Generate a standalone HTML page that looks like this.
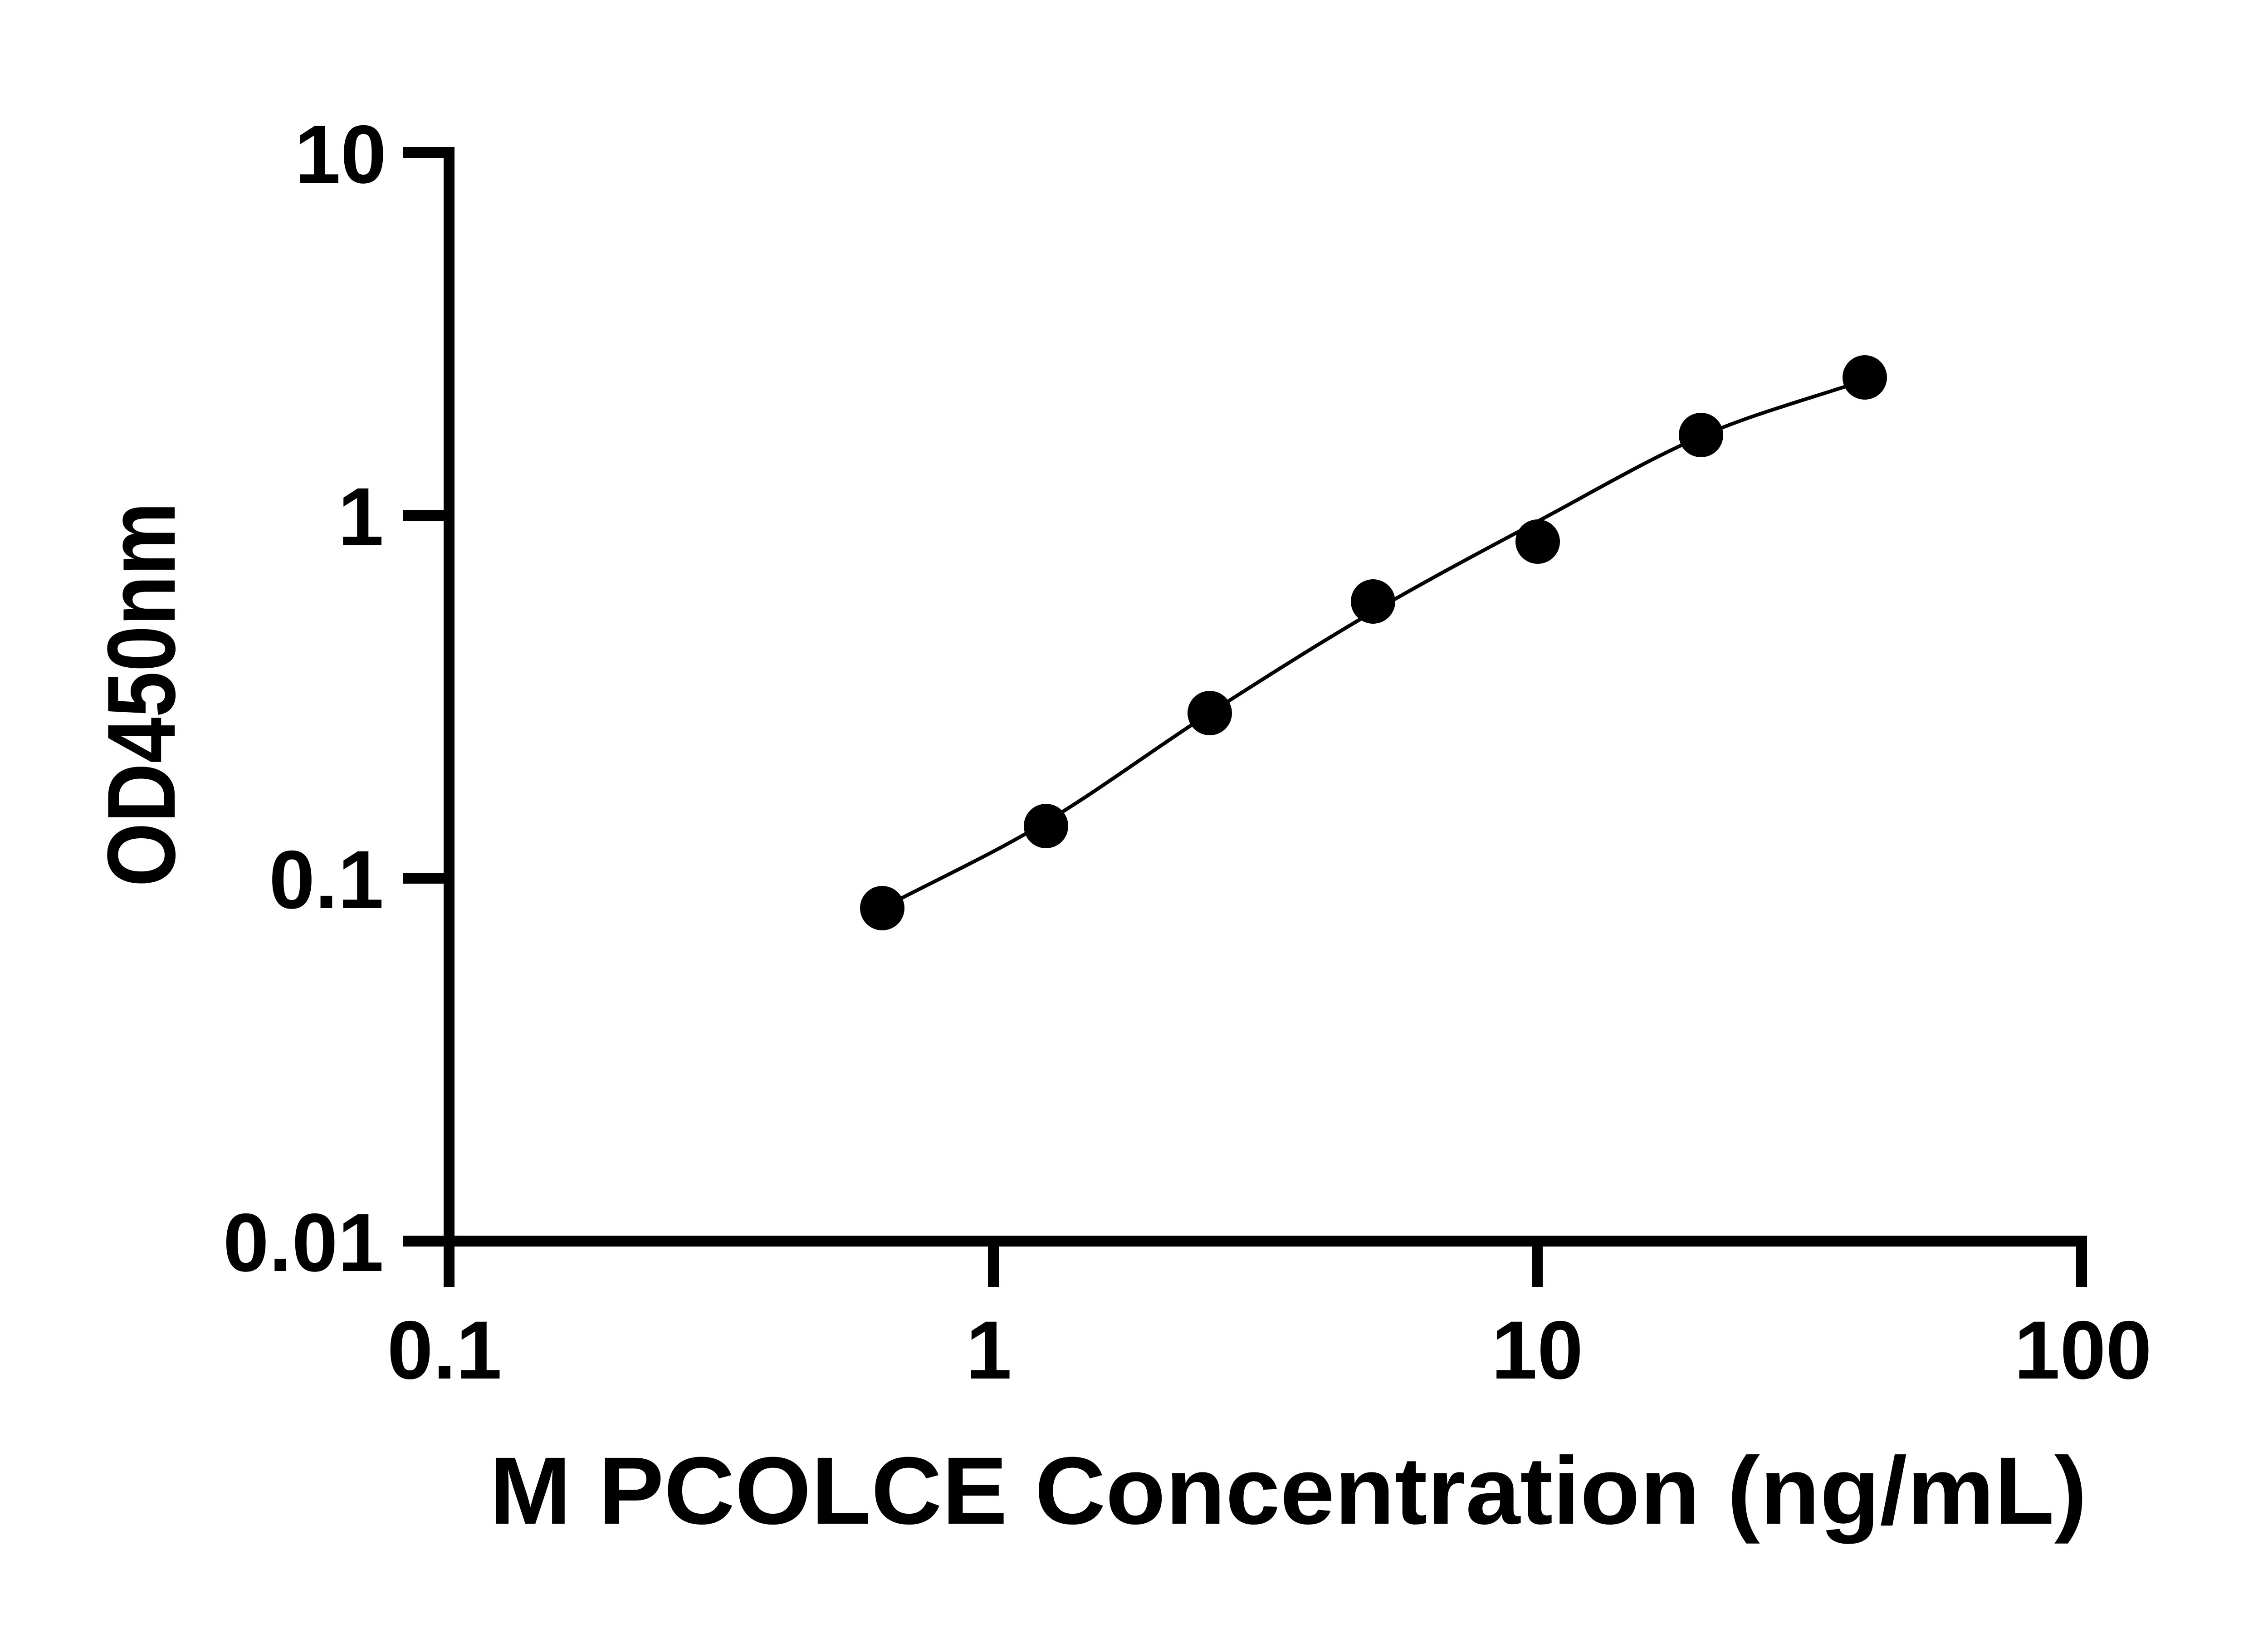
<!DOCTYPE html>
<html><head><meta charset="utf-8"><style>html,body{margin:0;padding:0;background:#fff}svg{display:block}</style></head>
<body>
<svg width="5142" height="3600" viewBox="0 0 5142 3600" xmlns="http://www.w3.org/2000/svg" font-family="'Liberation Sans',Arial,sans-serif" font-weight="bold">
<rect width="5142" height="3600" fill="#fff"/>
<g stroke="#000" stroke-width="24" fill="none" stroke-linecap="butt">
<line x1="990" y1="324" x2="990" y2="2837"/>
<line x1="978" y1="2736" x2="4601" y2="2736"/>
<line x1="888" y1="336" x2="1002" y2="336"/>
<line x1="888" y1="1136" x2="990" y2="1136"/>
<line x1="888" y1="1936" x2="990" y2="1936"/>
<line x1="888" y1="2736" x2="990" y2="2736"/>
<line x1="2190" y1="2736" x2="2190" y2="2837"/>
<line x1="3389" y1="2736" x2="3389" y2="2837"/>
<line x1="4589" y1="2724" x2="4589" y2="2837"/>
</g>
<path d="M1945,2002 C2065,1939 2186,1884 2306,1812 C2426,1740 2547,1649 2667,1572 C2787,1495 2908,1418 3028,1348 C3148,1278 3269,1214 3389,1150 C3509,1086 3630,1014 3750,962 C3870,910 3991,879 4111,838" stroke="#000" stroke-width="8" fill="none"/>
<g fill="#000">
<circle cx="1945" cy="2002" r="49"/><circle cx="2306" cy="1821" r="49"/><circle cx="2667" cy="1572" r="49"/><circle cx="3027" cy="1326" r="49"/><circle cx="3390" cy="1194" r="49"/><circle cx="3750" cy="959" r="49"/><circle cx="4111" cy="832" r="49"/>
</g>
<g font-size="182" text-anchor="end">
<text x="852" y="403">10</text>
<text x="846" y="1202">1</text>
<text x="846" y="2002">0.1</text>
<text x="846" y="2802">0.01</text>
</g>
<g font-size="182" text-anchor="middle">
<text x="980" y="3039">0.1</text>
<text x="2180" y="3039">1</text>
<text x="3389" y="3039">10</text>
<text x="4592" y="3039">100</text>
</g>
<text x="1079" y="3359" font-size="211" textLength="3522" lengthAdjust="spacingAndGlyphs">M PCOLCE Concentration (ng/mL)</text>
<text transform="translate(385,1955) rotate(-90)" font-size="213" textLength="848" lengthAdjust="spacingAndGlyphs">OD450nm</text>
</svg>
</body></html>
